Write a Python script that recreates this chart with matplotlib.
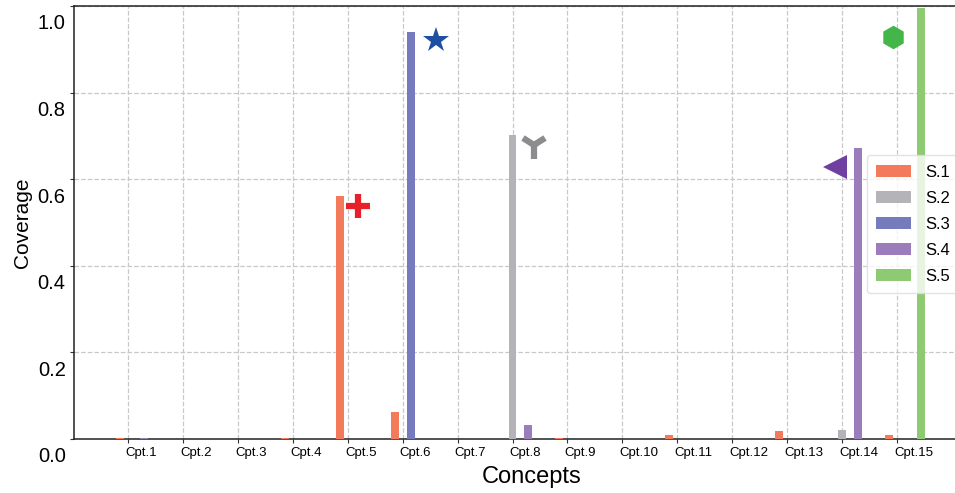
import matplotlib.pyplot as plt
import matplotlib.transforms as mtransforms
import numpy as np

plt.rcParams["font.family"] = ["Liberation Sans", "DejaVu Sans"]

concepts = ["Cpt.1", "Cpt.2", "Cpt.3", "Cpt.4", "Cpt.5", "Cpt.6", "Cpt.7", "Cpt.8",
            "Cpt.9", "Cpt.10", "Cpt.11", "Cpt.12", "Cpt.13", "Cpt.14", "Cpt.15"]
series = ["S.1", "S.2", "S.3", "S.4", "S.5"]
s1 = [0.003, 0, 0, 0.003, 0.561, 0.062, 0, 0, 0.003, 0, 0.010, 0, 0.018, 0, 0.010]
s2 = [0, 0, 0, 0, 0, 0, 0, 0.702, 0, 0, 0, 0, 0, 0.020, 0]
s3 = [0, 0, 0, 0, 0, 0.940, 0, 0, 0, 0, 0, 0, 0, 0, 0]
s4 = [0.003, 0, 0, 0, 0, 0, 0, 0.032, 0, 0, 0, 0, 0, 0.672, 0]
s5 = [0, 0, 0, 0, 0, 0, 0, 0, 0, 0, 0, 0, 0, 0, 0.995]
colors = ["#f47a5c", "#b4b4b8", "#767bbd", "#9a7dba", "#8dca72"]

# highlight markers next to each series' peak
mark_x = [5.18, 6.6, 8.4, 13.87, 14.92]
mark_y = [0.538, 0.921, 0.679, 0.628, 0.928]
mark_style = ["+", "*", "1", "<", "h"]
mark_color = ["#e8202a", "#1f4fa0", "#8c8c8e", "#7040a0", "#44b549"]

fig = plt.figure(figsize=(9.55, 4.93), dpi=100)
ax = fig.add_axes([0.0775, 0.1095, 0.9225, 0.878])

x = np.arange(1, len(concepts) + 1)
width = 0.145
for j, (name, vals) in enumerate(zip(series, [s1, s2, s3, s4, s5])):
    ax.bar(x + (j - 1) * width, vals, width, color=colors[j], label=name, zorder=3)

for mx, my, ms, mc in zip(mark_x, mark_y, mark_style, mark_color):
    size = {"+": 17, "*": 19, "1": 20, "<": 17, "h": 17}[ms]
    mew = 4.5 if ms in "+1" else 0
    ax.plot(mx, my, marker=ms, color=mc, markersize=size, markeredgewidth=mew,
            linestyle="none", zorder=4)

ax.set_xlim(0.017, 16.056)
ax.set_ylim(0, 1.0)
ax.tick_params(axis="both", length=3, color="#333333")
ax.tick_params(axis="x", pad=3)
ax.tick_params(axis="y", pad=3)
ax.set_xticks(x)
ax.set_xticklabels(concepts, fontsize=9.5, ha="left")
ax.set_yticks([0, 0.2, 0.4, 0.6, 0.8, 1.0])
ax.set_yticklabels(["0.0", "0.2", "0.4", "0.6", "0.8", "1.0"], fontsize=14.5, va="top")
# labels sit a little below / right of their ticks in the original
shift = mtransforms.ScaledTranslation(0, -6 / 72, fig.dpi_scale_trans)
for lab in ax.get_yticklabels():
    lab.set_transform(lab.get_transform() + shift)
shiftx = mtransforms.ScaledTranslation(-2 / 72, 0, fig.dpi_scale_trans)
for lab in ax.get_xticklabels():
    lab.set_transform(lab.get_transform() + shiftx)
ax.grid(True, linestyle="--", color="#c8c8c8", linewidth=0.9, zorder=0)
ax.set_axisbelow(True)
for side in ["left", "bottom", "top"]:
    ax.spines[side].set_color("#222222")
    ax.spines[side].set_linewidth(1.1)
ax.spines["right"].set_visible(False)

ax.set_xlabel("Concepts", fontsize=17, labelpad=5)
ax.xaxis.label.set_x(0.519)
ax.set_ylabel("Coverage", fontsize=15, labelpad=4)

ax.legend(loc="upper left", bbox_to_anchor=(0.9, 0.655), borderaxespad=0,
          fontsize=12, handlelength=2.1, handleheight=0.8, labelspacing=0.65,
          borderpad=0.55, handletextpad=0.85, framealpha=0.8,
          edgecolor="#dddddd")

fig.savefig("out.png", dpi=100)
